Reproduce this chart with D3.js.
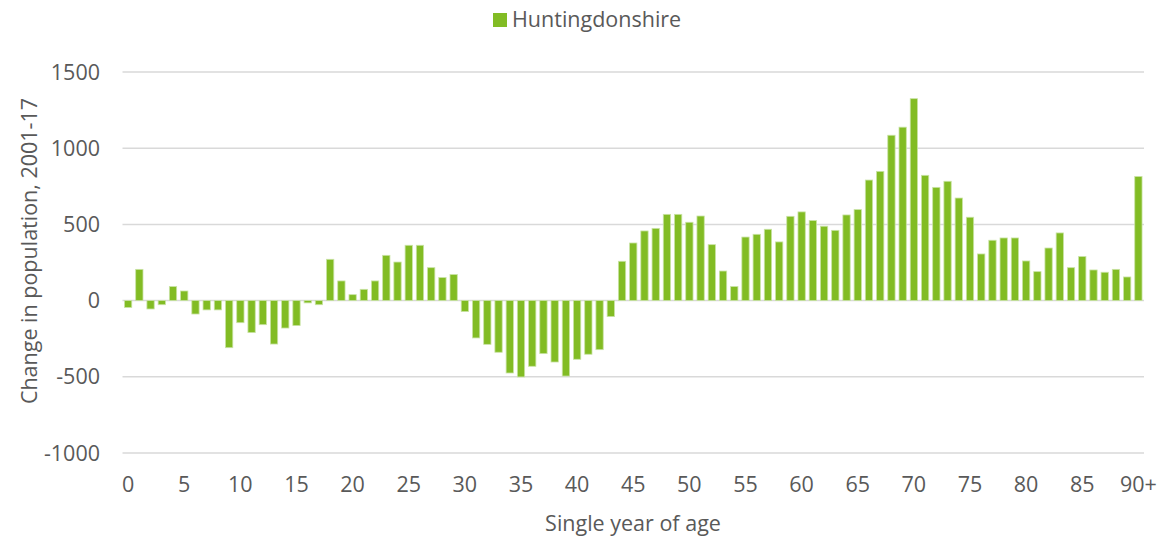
<!DOCTYPE html>
<html>
<head>
<meta charset="utf-8">
<script src="https://cdn.jsdelivr.net/npm/d3@7"></script>
<style>
  body { margin: 0; background: #fff; }
  text { font-family: "Open Sans", "Noto Sans", sans-serif; fill: #595959; }
</style>
</head>
<body>
<div id="chart"></div>
<script>
/* global d3 */
// ages 0..89 plus the 90+ group
var ages = d3.range(0, 90).map(String).concat(["90+"]);
var tickLabels = ["0", "5", "10", "15", "20", "25", "30", "35", "40", "45", "50", "55", "60", "65", "70", "75", "80", "85", "90+"];
var yTicks = [-1000, -500, 0, 500, 1000, 1500];
var seriesName = "Huntingdonshire";
var change = [
  -45, 205, -55, -27, 92, 63, -88, -61, -61, -309,
  -145, -210, -158, -285, -180, -164, -15, -27, 271, 129,
  39, 74, 129, 297, 253, 363, 363, 216, 151, 171,
  -72, -245, -287, -339, -475, -501, -431, -348, -403, -495,
  -385, -352, -322, -105, 258, 378, 457, 474, 566, 566,
  514, 555, 367, 194, 92, 417, 435, 468, 385, 553,
  582, 525, 488, 461, 562, 597, 791, 848, 1085, 1138,
  1325, 822, 743, 783, 673, 547, 306, 396, 411, 411,
  260, 190, 345, 444, 216, 289, 201, 186, 205, 155,
  814
];

var width = 1162;
var height = 538;
var margin = {top: 72, right: 18, bottom: 85, left: 122.5};
var green = "#82bc24";
var fontSize = "21.5px";

var svg = d3.select("#chart")
    .append("svg")
    .attr("width", width)
    .attr("height", height);

var x = d3.scaleBand()
    .domain(ages)
    .range([margin.left, width - margin.right])
    .paddingInner(0.35)
    .paddingOuter(0.175);

var y = d3.scaleLinear()
    .domain([-1000, 1500])
    .range([height - margin.bottom, margin.top]);

// gridlines
svg.append("g")
    .selectAll("line")
    .data(yTicks)
    .enter().append("line")
    .attr("x1", margin.left)
    .attr("x2", width - margin.right)
    .attr("y1", d => y(d))
    .attr("y2", d => y(d))
    .attr("stroke", "#d9d9d9")
    .attr("stroke-width", 1.5);

// y tick labels
svg.append("g")
    .selectAll("text")
    .data(yTicks)
    .enter().append("text")
    .attr("x", 100)
    .attr("y", d => y(d))
    .attr("dy", "0.35em")
    .attr("text-anchor", "end")
    .style("font-size", fontSize)
    .text(d => d);

// bars
svg.append("g")
    .selectAll("rect")
    .data(change)
    .enter().append("rect")
    .attr("x", (d, i) => x(ages[i]))
    .attr("width", x.bandwidth())
    .attr("y", d => y(Math.max(0, d)))
    .attr("height", d => Math.abs(y(d) - y(0)))
    .attr("fill", green)
    .attr("stroke", "#c9e3a4")
    .attr("stroke-width", 0.8);

// x tick labels
svg.append("g")
    .selectAll("text")
    .data(tickLabels)
    .enter().append("text")
    .attr("x", d => x(d) + x.bandwidth() / 2)
    .attr("y", 484)
    .attr("dy", "0.35em")
    .attr("text-anchor", "middle")
    .style("font-size", fontSize)
    .text(d => d);

// axis titles
svg.append("text")
    .attr("x", 633)
    .attr("y", 523)
    .attr("dy", "0.35em")
    .attr("text-anchor", "middle")
    .style("font-size", fontSize)
    .text("Single year of age");

svg.append("text")
    .attr("transform", "translate(37,251) rotate(-90)")
    .attr("text-anchor", "middle")
    .style("font-size", fontSize)
    .text("Change in population, 2001-17");

// legend
var legend = svg.append("g");
legend.append("rect")
    .attr("x", 493)
    .attr("y", 13)
    .attr("width", 14)
    .attr("height", 14)
    .attr("fill", green);
legend.append("text")
    .attr("x", 512)
    .attr("y", 27)
    .style("font-size", fontSize)
    .text(seriesName);
</script>
</body>
</html>
